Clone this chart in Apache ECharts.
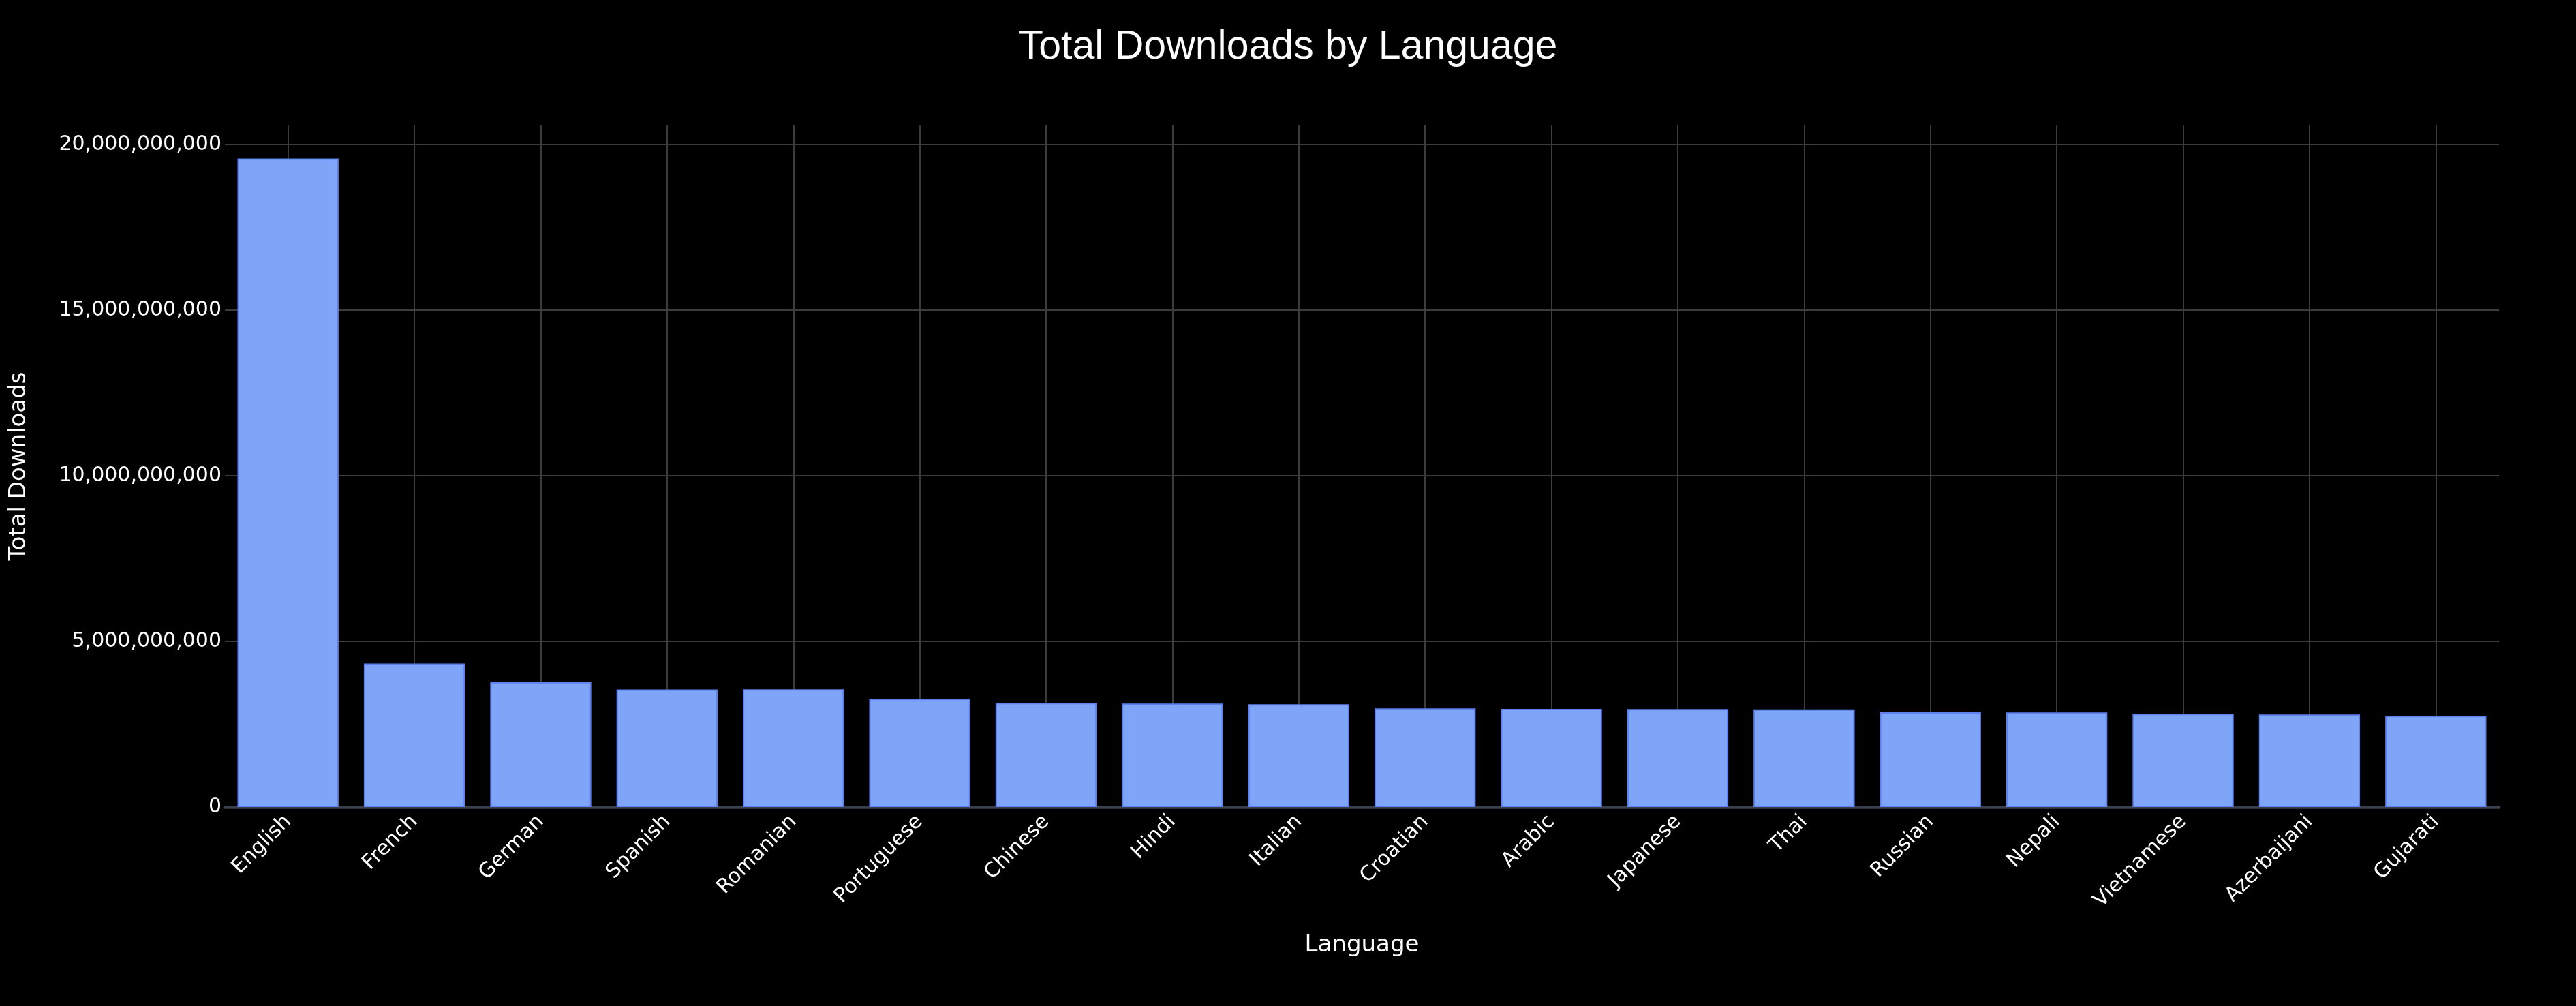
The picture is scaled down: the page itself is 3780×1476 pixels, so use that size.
<!DOCTYPE html>
<html>
<head>
<meta charset="utf-8">
<script src="https://cdn.jsdelivr.net/npm/echarts@6/dist/echarts.min.js"></script>
<style>
  html, body { margin: 0; padding: 0; background: #000000; }
  #chart { width: 3780px; height: 1476px; }
</style>
</head>
<body>
<div id="chart"></div>
<script>
const languages = ['English', 'French', 'German', 'Spanish', 'Romanian', 'Portuguese', 'Chinese', 'Hindi', 'Italian',
  'Croatian', 'Arabic', 'Japanese', 'Thai', 'Russian', 'Nepali', 'Vietnamese', 'Azerbaijani', 'Gujarati'];
const totalDownloads = [19.57e9, 4.33e9, 3.77e9, 3.548e9, 3.553e9, 3.265e9, 3.14e9, 3.12e9, 3.10e9,
  2.977e9, 2.963e9, 2.956e9, 2.949e9, 2.86e9, 2.853e9, 2.812e9, 2.791e9, 2.75e9];
const yTickStep = 5e9;
const yMax = 20.57e9;

const fmt = v => Math.round(v).toString().replace(/\B(?=(\d{3})+(?!\d))/g, ',');

const chart = echarts.init(document.getElementById('chart'), null, { renderer: 'canvas' });
chart.setOption({
  backgroundColor: '#000000',
  animation: false,
  title: {
    text: 'Total Downloads by Language',
    left: 'center',
    top: 35,
    textStyle: { color: '#ffffff', fontFamily: 'Liberation Sans', fontSize: 59, fontWeight: 'normal' }
  },
  grid: { left: 330, right: 113, top: 184, bottom: 292, containLabel: false },
  xAxis: {
    type: 'category',
    data: languages,
    name: 'Language',
    nameLocation: 'middle',
    nameGap: 186,
    nameTextStyle: { color: '#ffffff', fontFamily: 'DejaVu Sans', fontSize: 34 },
    axisLine: { show: true, lineStyle: { color: '#3a404c', width: 4.6 } },
    axisTick: { show: false, alignWithLabel: true },
    axisLabel: { color: '#ffffff', fontFamily: 'DejaVu Sans', fontSize: 30, rotate: 45, margin: 17, interval: 0 },
    splitLine: { show: true, alignWithLabel: true, lineStyle: { color: '#3c3c3c', width: 2 } }
  },
  yAxis: {
    type: 'value',
    min: 0,
    max: yMax,
    interval: yTickStep,
    name: 'Total Downloads',
    nameLocation: 'middle',
    nameGap: 285,
    nameTextStyle: { color: '#ffffff', fontFamily: 'DejaVu Sans', fontSize: 34 },
    axisLine: { show: false },
    axisTick: { show: false },
    axisLabel: {
      color: '#ffffff', fontFamily: 'DejaVu Sans', fontSize: 30, margin: 5, showMaxLabel: false,
      formatter: v => (Math.abs(v / yTickStep - Math.round(v / yTickStep)) < 1e-6 ? fmt(v) : '')
    },
    splitLine: { show: true, showMaxLine: false, lineStyle: { color: '#3c3c3c', width: 2 } }
  },
  series: [{
    type: 'bar',
    data: totalDownloads,
    barCategoryGap: '20%',
    itemStyle: { color: '#7fa5f8', borderColor: '#5f80f0', borderWidth: 2 }
  }]
});
</script>
</body>
</html>
